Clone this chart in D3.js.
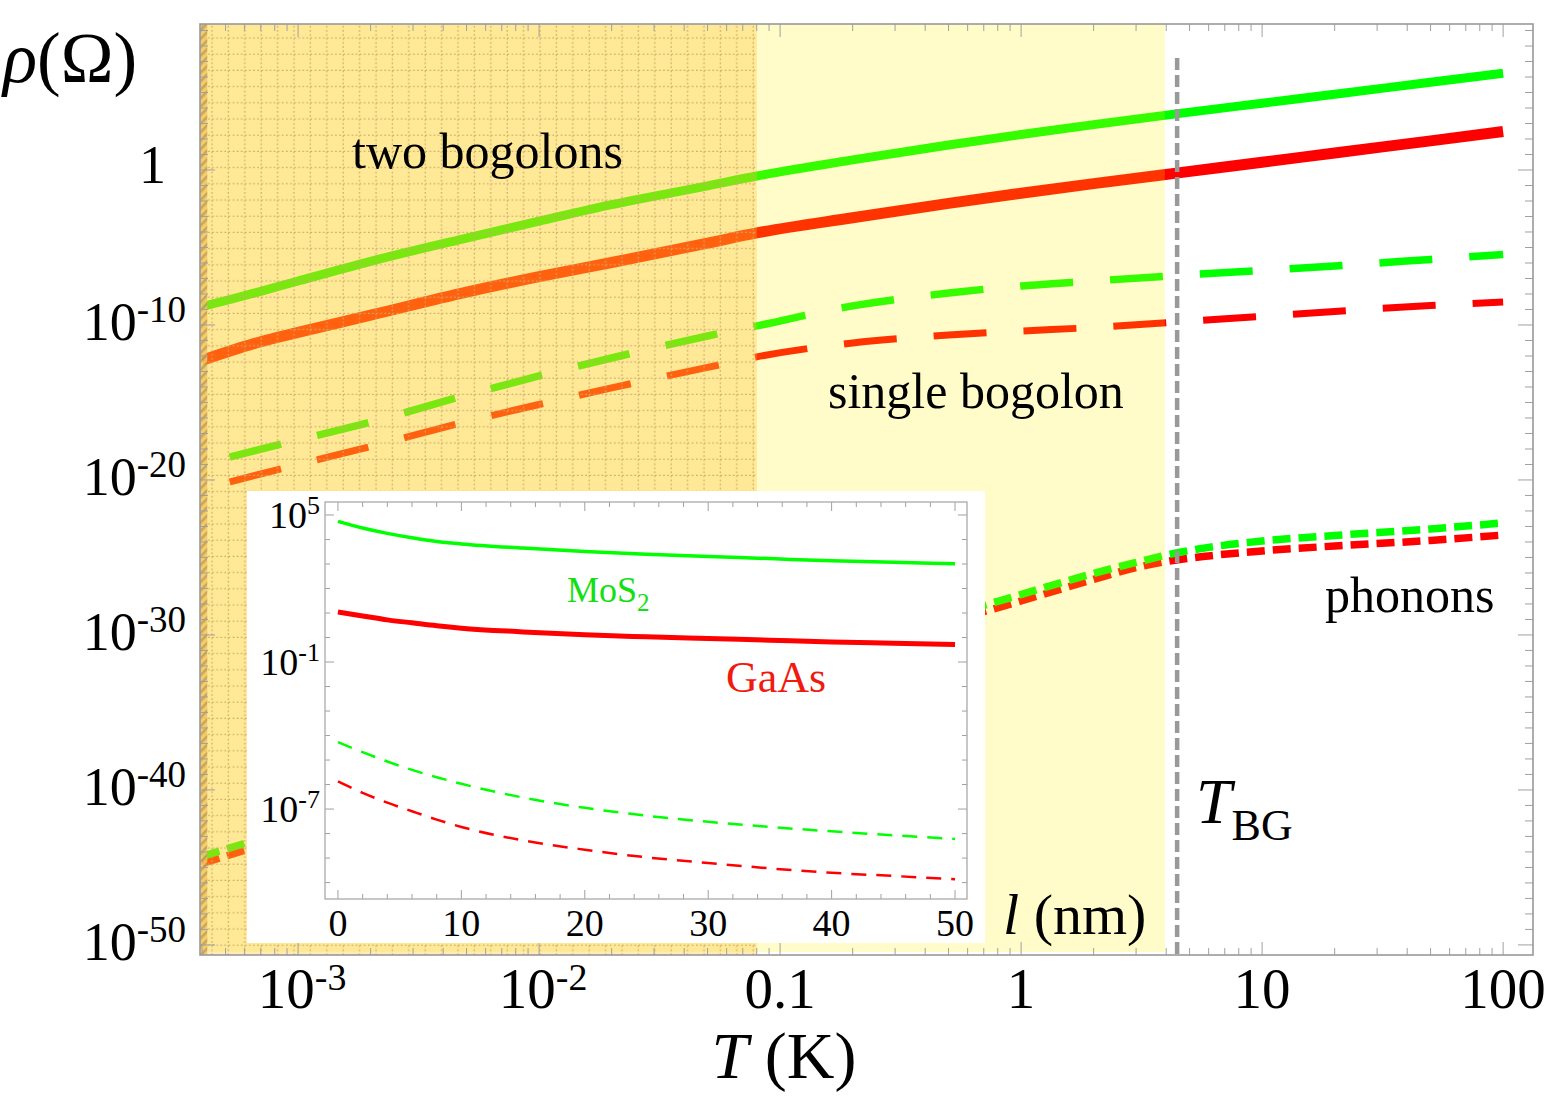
<!DOCTYPE html>
<html lang="en">
<head>
<meta charset="UTF-8">
<title>Resistivity vs temperature</title>
<script src="https://d3js.org/d3.v7.min.js"></script>
<style>
  body { margin: 0; background: #fff; }
  svg text { font-family: "Liberation Serif", "Times New Roman", serif; fill: #000; }
</style>
</head>
<body>
<div id="chart"></div>
<script>
// ---- main panel data: temperature (K) and log10 of rho (Ohm) ----
const tSolid = [4e-4, 7e-4, 1e-3, 2e-3, 5e-3, 0.01, 0.02, 0.05, 0.08, 0.2, 0.5, 1, 2, 4.4, 10, 20, 50, 100];
const twoBogMoS2 = [-8.81, -7.83, -7.16, -5.89, -4.39, -3.30, -2.24, -1.02, -0.39, 0.65, 1.61, 2.29, 2.93, 3.62, 4.31, 4.89, 5.66, 6.24];
const twoBogGaAs = [-12.28, -11.08, -10.48, -9.37, -7.88, -6.88, -5.97, -4.72, -4.06, -3.08, -2.15, -1.50, -0.88, -0.20, 0.50, 1.10, 1.88, 2.48];

const tDashed = [5.2e-4, 1e-3, 2e-3, 5e-3, 0.01, 0.02, 0.05, 0.08, 0.2, 0.5, 1, 2, 4.4, 10, 20, 50, 100];
const oneBogMoS2 = [-18.52, -17.42, -16.26, -14.52, -13.29, -12.13, -10.71, -10.06, -8.77, -7.94, -7.48, -7.16, -6.81, -6.48, -6.19, -5.77, -5.45];
const oneBogGaAs = [-20.13, -19.0, -17.84, -16.23, -15.13, -14.06, -12.74, -12.06, -11.16, -10.65, -10.39, -10.16, -9.81, -9.45, -9.13, -8.74, -8.52];

const tPhonon = [4e-4, 1e-3, 0.01, 0.1, 0.3, 0.6, 1, 2, 3, 4.4, 6, 10, 20, 50, 100];
const phonMoS2 = [-44.29, -42.39, -37.55, -32.71, -30.39, -28.45, -27.39, -26.03, -25.32, -24.71, -24.35, -23.94, -23.58, -23.16, -22.77];
const phonGaAs = [-44.74, -42.84, -38.0, -33.16, -30.84, -28.84, -27.81, -26.42, -25.65, -25.16, -24.90, -24.58, -24.26, -23.90, -23.55];

// shaded temperature ranges and Bloch-Gruneisen temperature
const hatchEnd = 4.2e-4;
const orangeEnd = 0.08;
const yellowEnd = 3.95;
const tBG = 4.44;

// tick labels
const xTicks = [1e-3, 1e-2, 0.1, 1, 10, 100];
const xTickText = [["10", "-3"], ["10", "-2"], ["0.1"], ["1"], ["10"], ["100"]];
const yTickExp = [0, -10, -20, -30, -40, -50];

// ---- inset data: l (nm) and log10 of rho ----
const lNm = [0, 2, 4, 6, 8, 10, 15, 20, 25, 30, 35, 40, 45, 50];
const insMoS2Solid = [4.74, 4.47, 4.25, 4.07, 3.92, 3.82, 3.65, 3.51, 3.40, 3.31, 3.22, 3.13, 3.07, 3.01];
const insGaAsSolid = [1.04, 0.88, 0.72, 0.60, 0.48, 0.38, 0.23, 0.11, 0.03, -0.04, -0.11, -0.18, -0.23, -0.28];
const insMoS2Dashed = [-4.27, -4.68, -5.06, -5.40, -5.70, -5.97, -6.53, -6.95, -7.27, -7.52, -7.73, -7.91, -8.07, -8.22];
const insGaAsDashed = [-5.87, -6.34, -6.74, -7.09, -7.43, -7.73, -8.28, -8.66, -8.97, -9.20, -9.42, -9.60, -9.73, -9.86];
const insXTicks = [0, 10, 20, 30, 40, 50];
const insYTickExp = [5, -1, -7];

const W = 1559, H = 1100;
const plot = { left: 200, right: 1533, top: 24, bottom: 955 };

const svg = d3.select("#chart").append("svg")
  .attr("width", W)
  .attr("height", H);

const x = d3.scaleLog()
  .domain([Math.pow(10, -3.407), Math.pow(10, 2.124)])
  .range([plot.left, plot.right]);
const y = d3.scaleLog()
  .domain([Math.pow(10, -50.65), Math.pow(10, 9.42)])
  .range([plot.bottom, plot.top]);

const defs = svg.append("defs");
defs.append("clipPath").attr("id", "clip")
  .append("rect")
  .attr("x", plot.left).attr("y", plot.top)
  .attr("width", plot.right - plot.left).attr("height", plot.bottom - plot.top);

// dotted grid for the low temperature band
const grid = defs.append("pattern")
  .attr("id", "grid")
  .attr("patternUnits", "userSpaceOnUse")
  .attr("width", 16.4).attr("height", 16.2)
  .attr("x", 204).attr("y", 30);
grid.append("path").attr("d", "M0,8H16.4").attr("stroke", "#c9aa66").attr("stroke-width", 1.2).attr("stroke-dasharray", "1.6,2.5");
grid.append("path").attr("d", "M8,0V16.2").attr("stroke", "#c9aa66").attr("stroke-width", 1.2).attr("stroke-dasharray", "1.6,2.45");

const hatch = defs.append("pattern")
  .attr("id", "hatch")
  .attr("patternUnits", "userSpaceOnUse")
  .attr("width", 6).attr("height", 6)
  .attr("patternTransform", "rotate(45)");
hatch.append("rect").attr("width", 6).attr("height", 6).attr("fill", "#f4c75a");
hatch.append("rect").attr("width", 2.5).attr("height", 6).attr("fill", "#b99a5e");

const curves = svg.append("g").attr("clip-path", "url(#clip)");

const line = d3.line()
  .x(d => x(d[0]))
  .y(d => y(Math.pow(10, d[1])))
  .curve(d3.curveMonotoneX);

function drawCurve(ts, vals, color, width, dash) {
  curves.append("path")
    .datum(ts.map((t, i) => [t, vals[i]]))
    .attr("d", line)
    .attr("fill", "none")
    .attr("stroke", color)
    .attr("stroke-width", width)
    .attr("stroke-dasharray", dash || null);
}

drawCurve(tPhonon, phonGaAs, "#ff0000", 7.5, "18,8");
drawCurve(tPhonon, phonMoS2, "#00ff00", 7.5, "18,8");
drawCurve(tDashed, oneBogGaAs, "#ff0000", 7, "53,37");
drawCurve(tDashed, oneBogMoS2, "#00ff00", 7.5, "53,37");
drawCurve(tSolid, twoBogGaAs, "#ff0000", 11);
drawCurve(tSolid, twoBogMoS2, "#00ff00", 9);

// translucent temperature bands drawn over the curves
const bands = svg.append("g");
bands.append("rect")
  .attr("x", plot.left).attr("y", plot.top)
  .attr("width", x(yellowEnd) - plot.left).attr("height", plot.bottom - plot.top - 3)
  .attr("fill", "rgb(255,240,0)").attr("opacity", 0.21);
bands.append("rect")
  .attr("x", plot.left).attr("y", plot.top)
  .attr("width", x(orangeEnd) - plot.left).attr("height", plot.bottom - plot.top)
  .attr("fill", "rgb(255,190,45)").attr("opacity", 0.33);
bands.append("rect")
  .attr("x", plot.left).attr("y", plot.top)
  .attr("width", x(orangeEnd) - plot.left).attr("height", plot.bottom - plot.top)
  .attr("fill", "url(#grid)");
bands.append("rect")
  .attr("x", plot.left).attr("y", plot.top)
  .attr("width", x(hatchEnd) - plot.left).attr("height", plot.bottom - plot.top)
  .attr("fill", "url(#hatch)").attr("opacity", 0.85);

// T_BG marker
svg.append("line")
  .attr("x1", x(tBG)).attr("x2", x(tBG))
  .attr("y1", 58).attr("y2", plot.bottom)
  .attr("stroke", "#999").attr("stroke-width", 4.5)
  .attr("stroke-dasharray", "12,5");

// ---- frame and ticks ----
const frame = svg.append("g");
const tickColor = "#a0a0a0";
for (let d = -4; d <= 2; d++) {
  for (let k = 1; k <= 9; k++) {
    const v = k * Math.pow(10, d);
    if (v < x.domain()[0] || v > x.domain()[1]) continue;
    const len = k === 1 ? 13 : 7;
    frame.append("line").attr("x1", x(v)).attr("x2", x(v))
      .attr("y1", plot.bottom).attr("y2", plot.bottom - len)
      .attr("stroke", tickColor).attr("stroke-width", 1);
    frame.append("line").attr("x1", x(v)).attr("x2", x(v))
      .attr("y1", plot.top).attr("y2", plot.top + len)
      .attr("stroke", tickColor).attr("stroke-width", 1);
  }
}
for (let e = -50; e <= 9; e++) {
  const len = e % 10 === 0 ? 15 : 8;
  const yy = y(Math.pow(10, e));
  frame.append("line").attr("x1", plot.left).attr("x2", plot.left + len)
    .attr("y1", yy).attr("y2", yy).attr("stroke", tickColor).attr("stroke-width", 1);
  frame.append("line").attr("x1", plot.right).attr("x2", plot.right - len)
    .attr("y1", yy).attr("y2", yy).attr("stroke", tickColor).attr("stroke-width", 1);
}
frame.append("rect")
  .attr("x", plot.left).attr("y", plot.top)
  .attr("width", plot.right - plot.left).attr("height", plot.bottom - plot.top)
  .attr("fill", "none").attr("stroke", "#999").attr("stroke-width", 1.6);

// ---- inset ----
const inset = svg.append("g");
inset.append("rect")
  .attr("x", 247).attr("y", 491).attr("width", 738).attr("height", 452)
  .attr("fill", "#fff");

const ix = d3.scaleLinear().domain([-1.05, 50.97]).range([325, 967]);
const iy = d3.scaleLog().domain([Math.pow(10, -10.67), Math.pow(10, 5.53)]).range([899, 502]);

for (let v = 0; v <= 50; v += 2) {
  const len = v % 10 === 0 ? 9 : 5;
  inset.append("line").attr("x1", ix(v)).attr("x2", ix(v)).attr("y1", 899).attr("y2", 899 - len)
    .attr("stroke", tickColor);
  inset.append("line").attr("x1", ix(v)).attr("x2", ix(v)).attr("y1", 502).attr("y2", 502 + len)
    .attr("stroke", tickColor);
}
for (let e = -10; e <= 5; e++) {
  const len = (e === 5 || e === -1 || e === -7) ? 9 : 5;
  const yy = iy(Math.pow(10, e));
  inset.append("line").attr("x1", 325).attr("x2", 325 + len).attr("y1", yy).attr("y2", yy).attr("stroke", tickColor);
  inset.append("line").attr("x1", 967).attr("x2", 967 - len).attr("y1", yy).attr("y2", yy).attr("stroke", tickColor);
}
inset.append("rect")
  .attr("x", 325).attr("y", 502).attr("width", 642).attr("height", 397)
  .attr("fill", "none").attr("stroke", "#aaa").attr("stroke-width", 1.3);

const iline = d3.line()
  .x(d => ix(d[0]))
  .y(d => iy(Math.pow(10, d[1])))
  .curve(d3.curveMonotoneX);

function drawInset(vals, color, width, dash) {
  inset.append("path")
    .datum(lNm.map((l, i) => [l, vals[i]]))
    .attr("d", iline)
    .attr("fill", "none")
    .attr("stroke", color)
    .attr("stroke-width", width)
    .attr("stroke-dasharray", dash || null);
}
drawInset(insMoS2Solid, "#00ff00", 3.5);
drawInset(insGaAsSolid, "#ff0000", 5);
drawInset(insMoS2Dashed, "#00ff00", 2.5, "15,10");
drawInset(insGaAsDashed, "#ff0000", 2.5, "15,10");

insXTicks.forEach(v => {
  inset.append("text").attr("x", ix(v)).attr("y", 936)
    .attr("text-anchor", "middle").attr("font-size", 38).text(v);
});
insYTickExp.forEach(e => {
  const t = inset.append("text").attr("x", 320).attr("y", iy(Math.pow(10, e)) + 13)
    .attr("text-anchor", "end").attr("font-size", 38);
  t.append("tspan").text("10");
  t.append("tspan").attr("dy", -14).attr("font-size", 26).text(e);
});
inset.append("text").attr("x", 567).attr("y", 602).attr("font-size", 36).style("fill", "#11e011")
  .call(t => {
    t.append("tspan").text("MoS");
    t.append("tspan").attr("dy", 9).attr("font-size", 25).text("2");
  });
inset.append("text").attr("x", 726).attr("y", 692).attr("font-size", 44).style("fill", "#f01a10")
  .text("GaAs");

// ---- axis labels ----
const labels = svg.append("g");
xTicks.forEach((v, i) => {
  const parts = xTickText[i];
  const t = labels.append("text").attr("x", x(v) + (parts.length > 1 ? 4 : 0)).attr("y", 1008)
    .attr("text-anchor", "middle").attr("font-size", 57);
  t.append("tspan").text(parts[0]);
  if (parts.length > 1) t.append("tspan").attr("dy", -18).attr("font-size", 38).text(parts[1]);
});
yTickExp.forEach(e => {
  const yy = y(Math.pow(10, e));
  if (e === 0) {
    labels.append("text").attr("x", 166).attr("y", yy + 13)
      .attr("text-anchor", "end").attr("font-size", 54).text("1");
  } else {
    const t = labels.append("text").attr("x", 186).attr("y", yy + 15)
      .attr("text-anchor", "end").attr("font-size", 54);
    t.append("tspan").text("10");
    t.append("tspan").attr("dy", -18).attr("font-size", 37).text(e);
  }
});

labels.append("text").attr("x", 3).attr("y", 82).attr("font-size", 71)
  .call(t => {
    t.append("tspan").attr("font-style", "italic").text("\u03C1");
    t.append("tspan").text("(\u03A9)");
  });
labels.append("text").attr("x", 784).attr("y", 1078).attr("font-size", 66).attr("text-anchor", "middle")
  .call(t => {
    t.append("tspan").attr("font-style", "italic").text("T");
    t.append("tspan").text(" (K)");
  });
labels.append("text").attr("x", 1003).attr("y", 934).attr("font-size", 58)
  .call(t => {
    t.append("tspan").attr("font-style", "italic").text("l");
    t.append("tspan").text(" (nm)");
  });
labels.append("text").attr("x", 1196).attr("y", 823).attr("font-size", 64)
  .call(t => {
    t.append("tspan").attr("font-style", "italic").text("T");
    t.append("tspan").attr("dy", 17).attr("font-size", 44).text("BG");
  });
labels.append("text").attr("x", 352).attr("y", 168).attr("font-size", 50).text("two bogolons");
labels.append("text").attr("x", 828).attr("y", 408).attr("font-size", 50).text("single bogolon");
labels.append("text").attr("x", 1325).attr("y", 612).attr("font-size", 50).text("phonons");
</script>
</body>
</html>
